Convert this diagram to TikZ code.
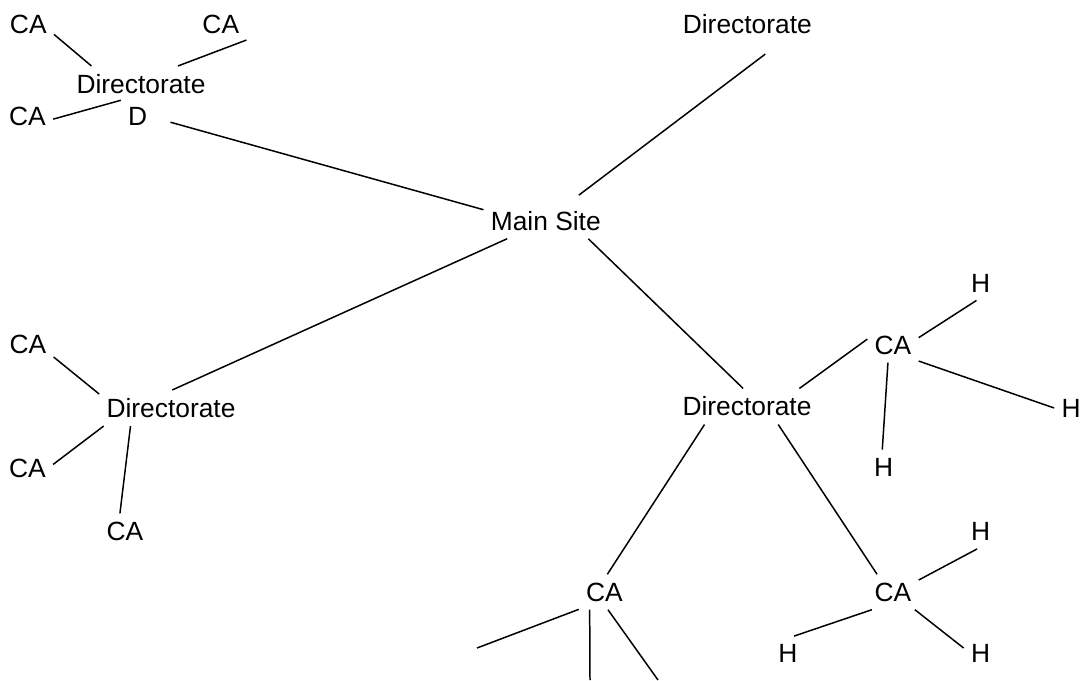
\documentclass[tikz,border=0pt]{standalone}
\usepackage{fontspec}
\setmainfont{Liberation Sans}

\begin{document}
\begin{tikzpicture}[x=0.02cm,y=-0.02cm,font=\fontsize{15}{18}\selectfont,
    box/.style={inner xsep=0.14cm,inner ysep=0.16cm},
    link/.style={line width=0.85pt}]
        \useasboundingbox (0,0) rectangle (1084,680);

        \node[box] (ca1) at (28.3,24) {CA};
        \node[box] (ca2) at (220.8,24) {CA};
        \node[box] (dirA) at (141,84) {Directorate};
        \node[box] (ca3) at (27.5,116) {CA};
        \node[box] (dA) at (137.7,116) {D};
        \node[box] (dirB) at (747.3,24) {Directorate};
        \node[box] (main) at (545.8,220.7) {Main Site};
        \node[box] (ca4) at (28,344.5) {CA};
        \node[box] (dirC) at (171,408) {Directorate};
        \node[box] (ca5) at (27.5,468) {CA};
        \node[box] (ca6) at (125,531) {CA};
        \node[box] (dirD) at (747,406.5) {Directorate};
        \node[box] (ca7) at (893,345) {CA};
        \node[box] (h1) at (980.5,283) {H};
        \node[box] (h2) at (1071,408) {H};
        \node[box] (h3) at (883.5,467) {H};
        \node[box] (ca8) at (604.5,592) {CA};
        \node[box] (ca9) at (893,592) {CA};
        \node[box] (h4) at (980.5,531.5) {H};
        \node[box] (h5) at (788,653.5) {H};
        \node[box] (h6) at (980.5,653.5) {H};

        \coordinate (endL) at (477,648);
        \coordinate (endD) at (590,680);
        \coordinate (endR) at (658,680);

        \draw[link] (ca1.-22) -- (dirA.160);
        \draw[link] (ca2.-32) -- (dirA.26);
        \draw[link] (ca3.-7) -- (dA.137);
        \draw[link,shorten <=0.33cm] (dA.-6) -- (main.170);
        \draw[link,shorten <=0.4cm,shorten >=0.25cm] (dirB.-28) -- (main.38);
        \draw[link] (main.-155) -- (dirC.86);
        \draw[link] (main.-23) -- (dirD.102);

        \draw[link] (ca4.-26) -- (dirC.169);
        \draw[link] (dirC.-165) -- (ca5.8);
        \draw[link] (dirC.-156) -- (ca6.106);

        \draw[link] (dirD.19) -- (ca7.167);
        \draw[link] (ca7.16) -- (h1.-103);
        \draw[link] (ca7.-32) -- (h2.180);
        \draw[link] (ca7.-106) -- (h3.94);

        \draw[link] (dirD.-157) -- (ca8.81);
        \draw[link] (dirD.-30) -- (ca9.132);
        \draw[link] (ca9.25) -- (h4.-101);
        \draw[link] (ca9.-140) -- (h5.71);
        \draw[link] (ca9.-39) -- (h6.162);

        \draw[link] (ca8.-146) -- (endL);
        \draw[link] (ca8.-130) -- (endD);
        \draw[link] (ca8.-79) -- (endR);
      \end{tikzpicture}
\end{document}
